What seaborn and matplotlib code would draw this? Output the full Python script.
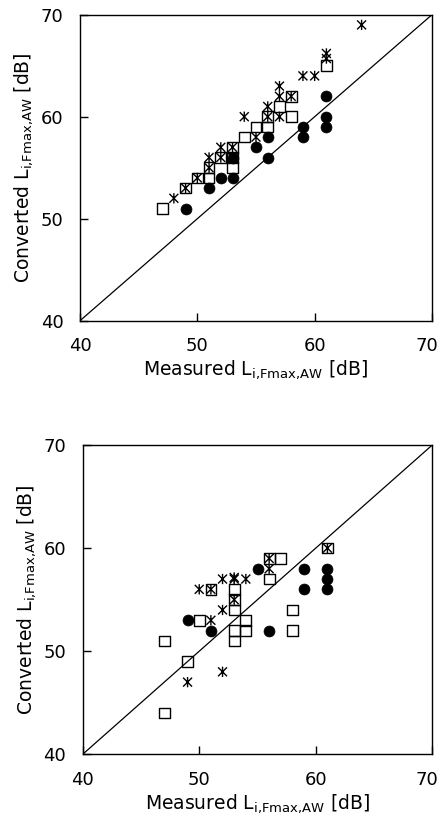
import numpy as np
import pandas as pd
import matplotlib
matplotlib.use("Agg")
import matplotlib.pyplot as plt
import matplotlib.transforms as mtransforms
import seaborn as sns
from matplotlib.path import Path

# ---------------- data (top panel) ----------------
top_circle_x = [49, 51, 52, 53, 53, 55, 56, 56, 59, 59, 61, 61, 61]
top_circle_y = [51, 53, 54, 54, 56, 57, 56, 58, 58, 59, 59, 60, 62]

top_square_x = [47, 49, 50, 51, 51, 52, 53, 53, 53, 54, 55, 56, 56, 57, 58, 58, 61]
top_square_y = [51, 53, 54, 54, 55, 56, 55, 56, 57, 58, 59, 59, 60, 61, 60, 62, 65]

top_star_x = [48, 49, 50, 51, 51, 52, 52, 53, 53, 54, 55, 56, 56, 57, 57, 57, 58, 59, 60, 61, 61, 64]
top_star_y = [52, 53, 54, 55, 56, 56, 57, 56, 57, 60, 58, 60, 61, 60, 62, 63, 62, 64, 64, 66.2, 65.7, 69]

# ---------------- data (bottom panel) ----------------
bot_circle_x = [49, 51, 55, 56, 59, 59, 61, 61, 61]
bot_circle_y = [53, 52, 58, 52, 58, 56, 58, 57, 56]

bot_square_x = [47, 47, 49, 50, 51, 53, 53, 53, 53, 53, 54, 54, 56, 56, 57, 58, 58, 61]
bot_square_y = [51, 44, 49, 53, 56, 56, 55, 54, 52, 51, 53, 52, 59, 57, 59, 54, 52, 60]

bot_star_x = [49, 50, 51, 51, 52, 52, 52, 53, 53, 53, 54, 56, 56, 61]
bot_star_y = [47, 56, 56, 53, 57, 54, 48, 57, 57.15, 55, 57, 59, 58, 60]

axis_min, axis_max = 40, 70
ticks = [40, 50, 60, 70]

sns.set_theme(style="ticks")
plt.rcParams["font.family"] = ["DejaVu Sans"]
plt.rcParams["mathtext.default"] = "regular"

star_path = Path(
    [(-1, -1), (1, 1), (-1, 1), (1, -1), (0, -1.15), (0, 1.15)],
    [Path.MOVETO, Path.LINETO, Path.MOVETO, Path.LINETO, Path.MOVETO, Path.LINETO],
)

fig = plt.figure(figsize=(4.42, 8.25), dpi=100)
ax_top = fig.add_axes([80 / 442, 1 - 320.7 / 825, 352 / 442, 306 / 825])
ax_bot = fig.add_axes([82.7 / 442, 1 - 754.3 / 825, 349.6 / 442, 309.3 / 825])

XLABEL = r"Measured $\mathregular{L_{i{,}Fmax{,}AW}}$ [dB]"
YLABEL = r"Converted $\mathregular{L_{i{,}Fmax{,}AW}}$ [dB]"


def draw(ax, cx, cy, sx, sy, tx, ty):
    diag = pd.DataFrame({"x": [axis_min, axis_max], "y": [axis_min, axis_max]})
    sns.lineplot(data=diag, x="x", y="y", ax=ax, color="black", linewidth=0.9)
    sns.scatterplot(x=cx, y=cy, ax=ax, marker="o", s=62,
                    facecolor="black", edgecolor="black", linewidth=0.5, zorder=3)
    sns.scatterplot(x=sx, y=sy, ax=ax, marker="s", s=60,
                    facecolor="none", edgecolor="black", linewidth=1.0, zorder=4)
    sns.scatterplot(x=tx, y=ty, ax=ax, marker=star_path, s=55,
                    facecolor="none", edgecolor="black", linewidth=1.0, zorder=5)
    ax.set_xlim(axis_min, axis_max)
    ax.set_ylim(axis_min, axis_max)
    ax.set_xticks(ticks)
    ax.set_yticks(ticks)
    ax.tick_params(direction="in", length=6, width=1, labelsize=13, pad=12,
                   colors="black")
    for sp in ax.spines.values():
        sp.set_visible(True)
        sp.set_color("black")
        sp.set_linewidth(1.0)
    ax.set_xlabel(XLABEL, fontsize=13.5, labelpad=2, color="black")
    ax.set_ylabel(YLABEL, fontsize=13.5, labelpad=4, color="black")
    ax.set_facecolor("white")


draw(ax_top, top_circle_x, top_circle_y, top_square_x, top_square_y, top_star_x, top_star_y)
draw(ax_bot, bot_circle_x, bot_circle_y, bot_square_x, bot_square_y, bot_star_x, bot_star_y)

# keep the right-most tick label ("70") inside the figure
fig.canvas.draw()
shift = mtransforms.ScaledTranslation(-4 / 72, 0, fig.dpi_scale_trans)
for ax in (ax_top, ax_bot):
    lab = ax.xaxis.get_major_ticks()[-1].label1
    lab.set_transform(lab.get_transform() + shift)

fig.savefig("out.png", dpi=100, facecolor="white")
